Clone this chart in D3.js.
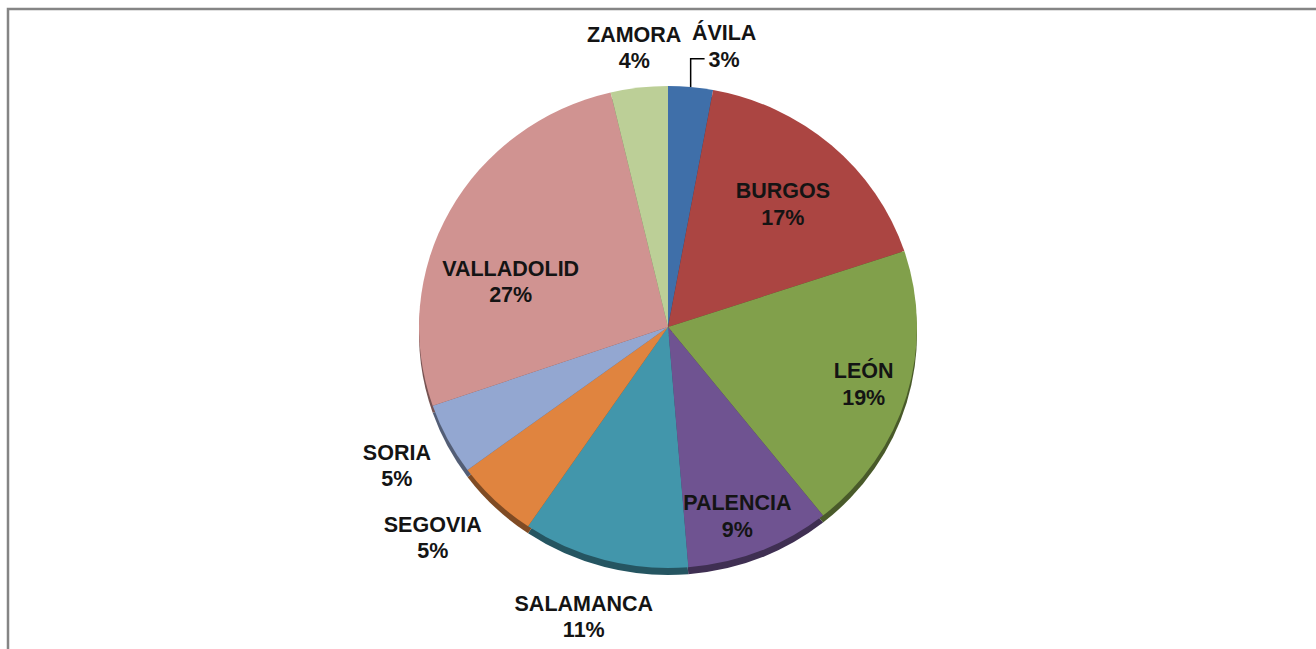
<!DOCTYPE html>
<html>
<head>
<meta charset="utf-8">
<script src="https://cdn.jsdelivr.net/npm/d3@7"></script>
<style>
  html, body { margin: 0; padding: 0; background: #fff; }
  svg { display: block; }
</style>
</head>
<body>
<svg width="1316" height="649"></svg>
<script>
// pie of shares by province, Castilla y León
const regions = ['ÁVILA', 'BURGOS', 'LEÓN', 'PALENCIA', 'SALAMANCA', 'SEGOVIA', 'SORIA', 'VALLADOLID', 'ZAMORA'];
const shares = [2.9, 17.0, 19.4, 9.4, 10.8, 5.4, 4.8, 26.6, 3.7];

// styling / layout
const palette = ['#3f6fa9', '#ab4542', '#81a04b', '#6f5391', '#4296ab', '#e0843f', '#93a7d1', '#d09391', '#bccf97'];
const labelR = [1.19, 0.69, 0.82, 0.83, 1.245, 1.285, 1.23, 0.66, 1.17];   // fraction of radius
const labelNudge = [5.7, 0.9, 0, 2, 1, 3.4, 0, -12, 0];                    // degrees

const svg = d3.select('svg');

// outer frame (runs off the right and bottom)
svg.append('rect')
    .attr('x', 8).attr('y', 9)
    .attr('width', 1330).attr('height', 660)
    .attr('fill', 'none')
    .attr('stroke', '#858585')
    .attr('stroke-width', 2.5);

const cx = 668, cy = 327, rx = 249, ry = 241, depth = 7;

const pie = d3.pie().sort(null).value(d => d);
const arcs = pie(shares);
const arc = d3.arc().innerRadius(0).outerRadius(rx);

// side of the 3d pie, drawn first and shifted down
const sideG = svg.append('g')
    .attr('transform', `translate(${cx},${cy + depth}) scale(1,${ry / rx})`);
sideG.selectAll('path')
    .data(arcs)
    .enter()
    .append('path')
    .attr('d', arc)
    .attr('fill', (d, i) => d3.color(palette[i]).darker(1.6));

const faceG = svg.append('g')
    .attr('transform', `translate(${cx},${cy}) scale(1,${ry / rx})`);
faceG.selectAll('path')
    .data(arcs)
    .enter()
    .append('path')
    .attr('d', arc)
    .attr('fill', (d, i) => palette[i]);

// point on the ellipse at angle a (radians, clockwise from 12 o'clock)
function onEllipse(a, f) {
    return [cx + rx * f * Math.sin(a), cy - ry * f * Math.cos(a)];
}

const labels = svg.append('g')
    .attr('font-family', '"Liberation Sans", Arial, sans-serif')
    .attr('font-weight', 'bold')
    .attr('font-size', 21.5)
    .attr('fill', '#141414')
    .attr('text-anchor', 'middle');

arcs.forEach(function(d, i) {
    const mid = (d.startAngle + d.endAngle) / 2;
    const a = mid + labelNudge[i] * Math.PI / 180;
    const p = onEllipse(a, labelR[i]);
    const t = labels.append('text')
        .attr('x', p[0])
        .attr('y', p[1] - 5.25);
    t.append('tspan')
        .attr('x', p[0])
        .text(regions[i]);
    t.append('tspan')
        .attr('x', p[0])
        .attr('dy', 26.5)
        .text(Math.round(shares[i]) + '%');

    // leader line for a label pushed away from its slice
    if (labelNudge[i] > 5 && labelR[i] > 1) {
        const edge = onEllipse(mid, 1);
        const yLine = p[1] - 5.25 + 26.5 - 8;
        const pctW = t.node().lastChild.getComputedTextLength();
        svg.append('path')
            .attr('d', d3.line()([edge, [edge[0], yLine], [p[0] - pctW / 2 - 4, yLine]]))
            .attr('fill', 'none')
            .attr('stroke', '#000')
            .attr('stroke-width', 1.5);
    }
});
</script>
</body>
</html>
